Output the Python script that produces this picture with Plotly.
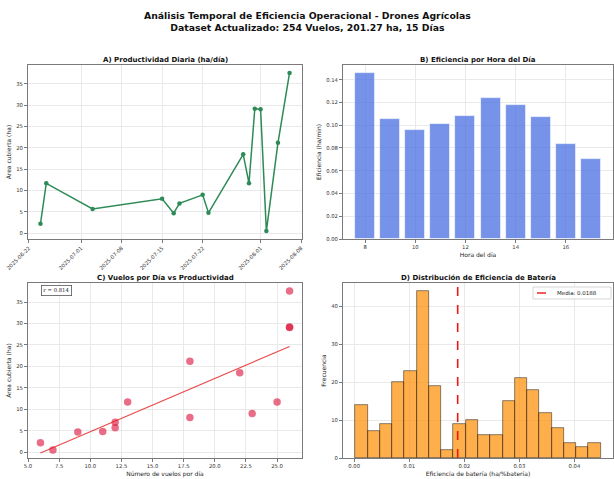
import numpy as np
import pandas as pd
import plotly.graph_objects as go
from plotly.subplots import make_subplots

# Daily productivity (15 flight days)
dates = ["2025-06-24", "2025-06-25", "2025-07-03", "2025-07-15", "2025-07-17",
         "2025-07-18", "2025-07-22", "2025-07-23", "2025-07-29", "2025-07-30",
         "2025-07-31", "2025-08-01", "2025-08-02", "2025-08-04", "2025-08-06"]
area_ha = [2.2, 11.7, 5.7, 8.1, 4.7, 7.0, 9.0, 4.8, 18.5, 11.7, 29.2, 29.1, 0.5, 21.2, 37.6]
flights_per_day = [6, 13, 12, 18, 9, 12, 23, 11, 22, 25, 26, 26, 7, 18, 26]
date_ticks = ["2025-06-22", "2025-07-01", "2025-07-08", "2025-07-15",
              "2025-07-22", "2025-08-01", "2025-08-08"]

# Efficiency by hour of day
hours = [8, 9, 10, 11, 12, 13, 14, 15, 16, 17]
eff_hour = [0.1456, 0.1050, 0.0959, 0.1009, 0.1079, 0.1241, 0.1174, 0.1068, 0.0832, 0.0700]

# Battery efficiency histogram (20 bins)
bin_start = 0.0002
bin_width = 0.002229
bin_counts = [14, 7, 9, 20, 23, 44, 19, 2, 9, 10, 6, 6, 15, 21, 18, 12, 8, 4, 3, 4]
battery_mean = 0.0188
r_label = "r = 0.814"

W, H = 614, 479
FONT = "DejaVu Sans"
TICK = 5.3
LAB = 6
AX_LINE = "#7a7a7a"
GRID = "#e9e9e9"
MEAN_COLOR = "#ee1515"


def px_x(a, b):
    return [a / W, b / W]


def px_y(top, bottom):
    return [1 - bottom / H, 1 - top / H]


fig = make_subplots(rows=2, cols=2)

# A) daily productivity line
fig.add_trace(go.Scatter(
    x=pd.to_datetime(dates), y=area_ha, mode="lines+markers",
    line=dict(color="#2E8B57", width=1.5),
    marker=dict(color="#2E8B57", size=4.5),
    showlegend=False), row=1, col=1)

# B) efficiency per hour
fig.add_trace(go.Bar(
    x=hours, y=eff_hour, width=0.8,
    marker=dict(color="rgba(65,105,225,0.72)", line=dict(color="rgba(255,255,255,0.8)", width=0.8)),
    showlegend=False), row=1, col=2)

# C) flights vs area scatter with linear fit
fx = np.array(flights_per_day, dtype=float)
fy = np.array(area_ha, dtype=float)
slope, intercept = np.polyfit(fx, fy, 1)
xfit = np.array([fx.min(), fx.max()])
fig.add_trace(go.Scatter(
    x=flights_per_day, y=area_ha, mode="markers",
    marker=dict(color="rgba(220,20,60,0.62)", size=7.5),
    showlegend=False), row=2, col=1)
fig.add_trace(go.Scatter(
    x=xfit, y=slope * xfit + intercept, mode="lines",
    line=dict(color="rgba(230,30,30,0.8)", width=1.2),
    showlegend=False), row=2, col=1)

# D) battery efficiency histogram
centers = [bin_start + (i + 0.5) * bin_width for i in range(len(bin_counts))]
fig.add_trace(go.Bar(
    x=centers, y=bin_counts, width=bin_width,
    marker=dict(color="rgba(255,140,0,0.7)", line=dict(color="rgba(0,0,0,0.65)", width=0.7)),
    showlegend=False), row=2, col=2)
ymax_d = max(bin_counts) * 1.05
fig.add_trace(go.Scatter(
    x=[battery_mean, battery_mean], y=[0, ymax_d], mode="lines",
    line=dict(color=MEAN_COLOR, width=1.6, dash="dash"),
    showlegend=False), row=2, col=2)

# axis ranges with 5% margins
d = pd.to_datetime(dates)
span = d.max() - d.min()
a_range = [d.min() - span * 0.05, d.max() + span * 0.05]
ylo, yhi = min(area_ha), max(area_ha)
a_yrange = [ylo - (yhi - ylo) * 0.05, yhi + (yhi - ylo) * 0.05]
b_xrange = [hours[0] - 0.4 - 0.049 * (hours[-1] - hours[0] + 0.8),
            hours[-1] + 0.4 + 0.049 * (hours[-1] - hours[0] + 0.8)]
c_xrange = [fx.min() - 0.05 * (fx.max() - fx.min()), fx.max() + 0.05 * (fx.max() - fx.min())]
edge_hi = bin_start + bin_width * len(bin_counts)
d_xrange = [bin_start - 0.05 * (edge_hi - bin_start), edge_hi + 0.05 * (edge_hi - bin_start)]

common_axis = dict(
    showline=True, mirror=True, linecolor=AX_LINE, linewidth=1,
    showgrid=True, gridcolor=GRID, gridwidth=0.8, zeroline=False,
    ticks="outside", ticklen=3, tickcolor=AX_LINE, tickwidth=0.8,
    tickfont=dict(family=FONT, size=TICK, color="#333"),
    automargin=False,
)
title_font = dict(family=FONT, size=LAB, color="#222")

fig.update_layout(
    width=W, height=H, margin=dict(l=0, r=0, t=0, b=0),
    paper_bgcolor="white", plot_bgcolor="white",
    font=dict(family=FONT, color="#222"),
    bargap=0, showlegend=False,
    xaxis=dict(common_axis, domain=px_x(28, 302), type="date", range=a_range,
               tickvals=pd.to_datetime(date_ticks), ticktext=date_ticks, tickangle=-45),
    yaxis=dict(common_axis, domain=px_y(65, 239), range=a_yrange, dtick=5,
               title=dict(text="Área cubierta (ha)", font=title_font, standoff=4)),
    xaxis2=dict(common_axis, domain=px_x(343, 613), range=b_xrange, tickvals=[8, 10, 12, 14, 16],
                title=dict(text="Hora del día", font=title_font, standoff=3)),
    yaxis2=dict(common_axis, domain=px_y(65, 239), range=[0, max(eff_hour) * 1.05],
                dtick=0.02, tickformat=".2f",
                title=dict(text="Eficiencia (ha/min)", font=title_font, standoff=4)),
    xaxis3=dict(common_axis, domain=px_x(28, 302), range=c_xrange, dtick=2.5, tick0=5,
                tickformat=".1f",
                title=dict(text="Número de vuelos por día", font=title_font, standoff=3)),
    yaxis3=dict(common_axis, domain=px_y(283, 458), range=a_yrange, dtick=5,
                title=dict(text="Área cubierta (ha)", font=title_font, standoff=4)),
    xaxis4=dict(common_axis, domain=px_x(343, 613), range=d_xrange, dtick=0.01, tick0=0,
                tickformat=".2f",
                title=dict(text="Eficiencia de batería (ha/%batería)", font=title_font, standoff=3)),
    yaxis4=dict(common_axis, domain=px_y(283, 458), range=[0, ymax_d], dtick=10,
                title=dict(text="Frecuencia", font=title_font, standoff=4)),
)

annotations = [
    dict(text="<b>Análisis Temporal de Eficiencia Operacional - Drones Agrícolas</b><br>"
              "<b>Dataset Actualizado: 254 Vuelos, 201.27 ha, 15 Días</b>",
         x=0.5, y=1 - 22 / H, font=dict(family=FONT, size=9.3, color="#111")),
    dict(text="<b>A) Productividad Diaria (ha/día)</b>", x=165 / W, y=1 - 60 / H),
    dict(text="<b>B) Eficiencia por Hora del Día</b>", x=478 / W, y=1 - 60 / H),
    dict(text="<b>C) Vuelos por Día vs Productividad</b>", x=165 / W, y=1 - 278 / H),
    dict(text="<b>D) Distribución de Eficiencia de Batería</b>", x=478 / W, y=1 - 278 / H),
]
for i, a in enumerate(annotations):
    a.update(xref="paper", yref="paper", showarrow=False, xanchor="center", yanchor="middle")
    if i > 0:
        a["font"] = dict(family=FONT, size=7, color="#111")

# correlation label in panel C
annotations.append(dict(
    text=r_label, x=56 / W, y=1 - 290.5 / H, xref="paper", yref="paper", showarrow=False,
    xanchor="center", yanchor="middle",
    font=dict(family="DejaVu Serif", size=5.3, color="#222"),
    bgcolor="white", bordercolor="#555", borderwidth=0.8, borderpad=1.5))

# legend for the mean line in panel D
legend_y = 1 - 293 / H
annotations.append(dict(
    text=f"Media: {battery_mean:.4f}", x=555 / W, y=legend_y, xref="paper", yref="paper",
    showarrow=False, xanchor="left", yanchor="middle",
    font=dict(family=FONT, size=5.5, color="#222")))
shapes = [
    dict(type="rect", xref="paper", yref="paper", x0=533 / W, x1=611 / W,
         y0=1 - 299 / H, y1=1 - 287 / H, line=dict(color="#cccccc", width=0.8),
         fillcolor="rgba(255,255,255,0.85)", layer="above"),
    dict(type="line", xref="paper", yref="paper", x0=537 / W, x1=551 / W,
         y0=legend_y, y1=legend_y, line=dict(color=MEAN_COLOR, width=1.4, dash="dash"),
         layer="above"),
]
fig.update_layout(annotations=annotations, shapes=shapes)

fig.write_html("out.html")
